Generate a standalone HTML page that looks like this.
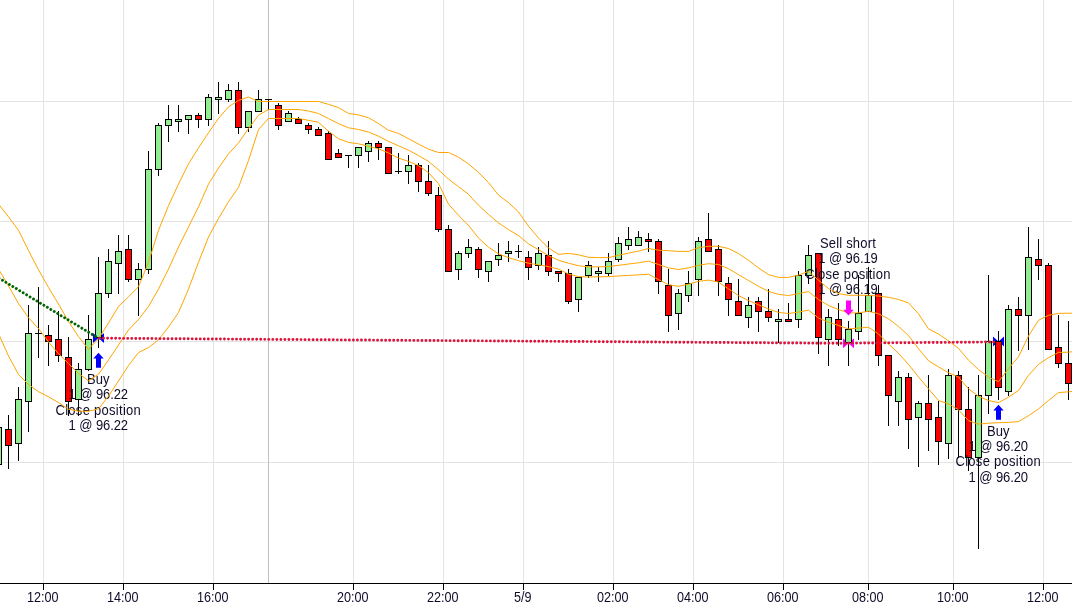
<!DOCTYPE html>
<html><head><meta charset="utf-8"><title>Chart</title>
<style>html,body{margin:0;padding:0;background:#fff;overflow:hidden}body{width:1072px;height:613px}</style>
</head><body>
<svg width="1072" height="613" viewBox="0 0 1072 613" style="display:block">
<rect width="1072" height="613" fill="#fff"/>
<g stroke="#e3e3e3" stroke-width="1" shape-rendering="crispEdges">
<line x1="0" y1="101.5" x2="1072" y2="101.5"/>
<line x1="0" y1="221.5" x2="1072" y2="221.5"/>
<line x1="0" y1="341.5" x2="1072" y2="341.5"/>
<line x1="0" y1="462.5" x2="1072" y2="462.5"/>
<line x1="43.5" y1="0" x2="43.5" y2="583"/>
<line x1="123.5" y1="0" x2="123.5" y2="583"/>
<line x1="213.5" y1="0" x2="213.5" y2="583"/>
<line x1="353.5" y1="0" x2="353.5" y2="583"/>
<line x1="443.5" y1="0" x2="443.5" y2="583"/>
<line x1="523.5" y1="0" x2="523.5" y2="583"/>
<line x1="613.5" y1="0" x2="613.5" y2="583"/>
<line x1="693.5" y1="0" x2="693.5" y2="583"/>
<line x1="783.5" y1="0" x2="783.5" y2="583"/>
<line x1="868.5" y1="0" x2="868.5" y2="583"/>
<line x1="953.5" y1="0" x2="953.5" y2="583"/>
<line x1="1043.5" y1="0" x2="1043.5" y2="583"/>
</g>
<line x1="268.5" y1="0" x2="268.5" y2="583" stroke="#c0c0c0" stroke-width="1" shape-rendering="crispEdges"/>
<g stroke="#000" stroke-width="1" shape-rendering="crispEdges">
<rect x="-2.0" y="427" width="1" height="37" fill="#000" stroke="none"/>
<rect x="-4.5" y="427.5" width="6" height="36.5" fill="#90ee90"/>
<rect x="8.0" y="415" width="1" height="54" fill="#000" stroke="none"/>
<rect x="5.5" y="429.5" width="6" height="16.0" fill="#ff0000"/>
<rect x="18.0" y="387" width="1" height="74" fill="#000" stroke="none"/>
<rect x="15.5" y="399.5" width="6" height="44.0" fill="#90ee90"/>
<rect x="28.0" y="305" width="1" height="127" fill="#000" stroke="none"/>
<rect x="25.5" y="333.5" width="6" height="68.0" fill="#90ee90"/>
<rect x="38.0" y="287" width="1" height="71" fill="#000" stroke="none"/>
<line x1="35.0" y1="333.5" x2="42.0" y2="333.5"/>
<rect x="48.0" y="325" width="1" height="41" fill="#000" stroke="none"/>
<rect x="45.5" y="335.5" width="6" height="6.0" fill="#ff0000"/>
<rect x="58.0" y="311" width="1" height="51" fill="#000" stroke="none"/>
<rect x="55.5" y="339.5" width="6" height="16.0" fill="#ff0000"/>
<rect x="68.0" y="337" width="1" height="79" fill="#000" stroke="none"/>
<rect x="65.5" y="357.5" width="6" height="44.0" fill="#ff0000"/>
</g>
<path d="M93.0,333 L98.5,338 L93.0,343 Z M104.0,333 L98.5,338 L104.0,343 Z" fill="#0000ff"/>
<g font-family="'Liberation Sans', Arial, sans-serif" font-size="14" fill="#100c28" text-anchor="middle">
<text transform="translate(98.3,383.7) scale(0.93,1)">Buy</text>
<text transform="translate(98.3,398.8) scale(0.93,1)" letter-spacing="-0.1">1 @ 96.22</text>
<text transform="translate(98.3,414.5) scale(0.93,1)" letter-spacing="0.3">Close position</text>
<text transform="translate(98.3,429.7) scale(0.93,1)" letter-spacing="-0.1">1 @ 96.22</text>
</g>
<g stroke="#000" stroke-width="1" shape-rendering="crispEdges">
<rect x="78.0" y="363" width="1" height="53" fill="#000" stroke="none"/>
<rect x="75.5" y="369.5" width="6" height="30.0" fill="#90ee90"/>
<rect x="88.0" y="315" width="1" height="56" fill="#000" stroke="none"/>
<rect x="85.5" y="339.5" width="6" height="30.0" fill="#90ee90"/>
<rect x="98.0" y="257" width="1" height="91" fill="#000" stroke="none"/>
<rect x="95.5" y="293.5" width="6" height="44.0" fill="#90ee90"/>
<rect x="108.0" y="249" width="1" height="49" fill="#000" stroke="none"/>
<rect x="105.5" y="261.5" width="6" height="32.0" fill="#90ee90"/>
<rect x="118.0" y="235" width="1" height="59" fill="#000" stroke="none"/>
<rect x="115.5" y="251.5" width="6" height="12.0" fill="#90ee90"/>
<rect x="128.0" y="235" width="1" height="47" fill="#000" stroke="none"/>
<rect x="125.5" y="249.5" width="6" height="30.0" fill="#ff0000"/>
<rect x="138.0" y="263" width="1" height="53" fill="#000" stroke="none"/>
<rect x="135.5" y="269.5" width="6" height="10.0" fill="#90ee90"/>
<rect x="148.0" y="151" width="1" height="123" fill="#000" stroke="none"/>
<rect x="145.5" y="169.5" width="6" height="100.0" fill="#90ee90"/>
<rect x="158.0" y="123" width="1" height="53" fill="#000" stroke="none"/>
<rect x="155.5" y="125.5" width="6" height="44.0" fill="#90ee90"/>
<rect x="168.0" y="105" width="1" height="37" fill="#000" stroke="none"/>
<rect x="165.5" y="119.5" width="6" height="6.0" fill="#90ee90"/>
<rect x="178.0" y="105" width="1" height="27" fill="#000" stroke="none"/>
<rect x="175.5" y="119.5" width="6" height="2.0" fill="#90ee90"/>
<rect x="188.0" y="115" width="1" height="19" fill="#000" stroke="none"/>
<rect x="185.5" y="115.5" width="6" height="4.0" fill="#90ee90"/>
<rect x="198.0" y="113" width="1" height="15" fill="#000" stroke="none"/>
<rect x="195.5" y="115.5" width="6" height="4.0" fill="#ff0000"/>
<rect x="208.0" y="94" width="1" height="32" fill="#000" stroke="none"/>
<rect x="205.5" y="97.5" width="6" height="22.0" fill="#90ee90"/>
<rect x="218.0" y="82" width="1" height="32" fill="#000" stroke="none"/>
<rect x="215.5" y="97.5" width="6" height="2.0" fill="#90ee90"/>
<rect x="228.0" y="84" width="1" height="18" fill="#000" stroke="none"/>
<rect x="225.5" y="90.5" width="6" height="9.0" fill="#90ee90"/>
<rect x="238.0" y="82" width="1" height="52" fill="#000" stroke="none"/>
<rect x="235.5" y="90.5" width="6" height="37.0" fill="#ff0000"/>
<rect x="248.0" y="111" width="1" height="21" fill="#000" stroke="none"/>
<rect x="245.5" y="111.5" width="6" height="16.0" fill="#90ee90"/>
<rect x="258.0" y="90" width="1" height="22" fill="#000" stroke="none"/>
<rect x="255.5" y="99.5" width="6" height="12.0" fill="#90ee90"/>
<rect x="268.0" y="99" width="1" height="11" fill="#000" stroke="none"/>
<line x1="265.0" y1="99.5" x2="272.0" y2="99.5"/>
<rect x="278.0" y="103" width="1" height="27" fill="#000" stroke="none"/>
<rect x="275.5" y="105.5" width="6" height="20.0" fill="#ff0000"/>
<rect x="288.0" y="111" width="1" height="11" fill="#000" stroke="none"/>
<rect x="285.5" y="113.5" width="6" height="8.0" fill="#90ee90"/>
<rect x="298.0" y="117" width="1" height="7" fill="#000" stroke="none"/>
<rect x="295.5" y="119.5" width="6" height="4.0" fill="#ff0000"/>
<rect x="308.0" y="123" width="1" height="11" fill="#000" stroke="none"/>
<rect x="305.5" y="125.5" width="6" height="4.0" fill="#ff0000"/>
<rect x="318.0" y="127" width="1" height="9" fill="#000" stroke="none"/>
<rect x="315.5" y="129.5" width="6" height="6.0" fill="#ff0000"/>
<rect x="328.0" y="131" width="1" height="29" fill="#000" stroke="none"/>
<rect x="325.5" y="133.5" width="6" height="26.0" fill="#ff0000"/>
<rect x="338.0" y="149" width="1" height="9" fill="#000" stroke="none"/>
<rect x="335.5" y="153.5" width="6" height="4.0" fill="#ff0000"/>
<rect x="348.0" y="155" width="1" height="13" fill="#000" stroke="none"/>
<line x1="345.0" y1="155.5" x2="352.0" y2="155.5"/>
<rect x="358.0" y="147" width="1" height="21" fill="#000" stroke="none"/>
<rect x="355.5" y="147.5" width="6" height="8.0" fill="#90ee90"/>
<rect x="368.0" y="141" width="1" height="21" fill="#000" stroke="none"/>
<rect x="365.5" y="143.5" width="6" height="8.0" fill="#90ee90"/>
<rect x="378.0" y="141" width="1" height="19" fill="#000" stroke="none"/>
<rect x="375.5" y="143.5" width="6" height="4.0" fill="#ff0000"/>
<rect x="388.0" y="147" width="1" height="27" fill="#000" stroke="none"/>
<rect x="385.5" y="147.5" width="6" height="26.0" fill="#ff0000"/>
<rect x="398.0" y="153" width="1" height="21" fill="#000" stroke="none"/>
<line x1="395.0" y1="171.5" x2="402.0" y2="171.5"/>
<rect x="408.0" y="155" width="1" height="29" fill="#000" stroke="none"/>
<rect x="405.5" y="165.5" width="6" height="6.0" fill="#90ee90"/>
<rect x="418.0" y="163" width="1" height="29" fill="#000" stroke="none"/>
<rect x="415.5" y="165.5" width="6" height="16.0" fill="#ff0000"/>
<rect x="428.0" y="165" width="1" height="31" fill="#000" stroke="none"/>
<rect x="425.5" y="181.5" width="6" height="12.0" fill="#ff0000"/>
<rect x="438.0" y="187" width="1" height="45" fill="#000" stroke="none"/>
<rect x="435.5" y="195.5" width="6" height="34.0" fill="#ff0000"/>
<rect x="448.0" y="225" width="1" height="47" fill="#000" stroke="none"/>
<rect x="445.5" y="229.5" width="6" height="42.0" fill="#ff0000"/>
<rect x="458.0" y="251" width="1" height="29" fill="#000" stroke="none"/>
<rect x="455.5" y="253.5" width="6" height="16.0" fill="#90ee90"/>
<rect x="468.0" y="239" width="1" height="19" fill="#000" stroke="none"/>
<rect x="465.5" y="247.5" width="6" height="6.0" fill="#90ee90"/>
<rect x="478.0" y="247" width="1" height="31" fill="#000" stroke="none"/>
<rect x="475.5" y="249.5" width="6" height="20.0" fill="#ff0000"/>
<rect x="488.0" y="261" width="1" height="21" fill="#000" stroke="none"/>
<rect x="485.5" y="261.5" width="6" height="10.0" fill="#90ee90"/>
<rect x="498.0" y="243" width="1" height="23" fill="#000" stroke="none"/>
<rect x="495.5" y="255.5" width="6" height="4.0" fill="#90ee90"/>
<rect x="508.0" y="241" width="1" height="21" fill="#000" stroke="none"/>
<rect x="505.5" y="251.5" width="6" height="2.0" fill="#90ee90"/>
<rect x="518.0" y="245" width="1" height="13" fill="#000" stroke="none"/>
<line x1="515.0" y1="251.5" x2="522.0" y2="251.5"/>
<rect x="528.0" y="251" width="1" height="29" fill="#000" stroke="none"/>
<rect x="525.5" y="257.5" width="6" height="10.0" fill="#ff0000"/>
<rect x="538.0" y="247" width="1" height="23" fill="#000" stroke="none"/>
<rect x="535.5" y="253.5" width="6" height="12.0" fill="#90ee90"/>
<rect x="548.0" y="241" width="1" height="35" fill="#000" stroke="none"/>
<rect x="545.5" y="255.5" width="6" height="16.0" fill="#ff0000"/>
<rect x="558.0" y="271" width="1" height="11" fill="#000" stroke="none"/>
<rect x="555.5" y="271.5" width="6" height="2.0" fill="#ff0000"/>
<rect x="568.0" y="269" width="1" height="35" fill="#000" stroke="none"/>
<rect x="565.5" y="273.5" width="6" height="28.0" fill="#ff0000"/>
<rect x="578.0" y="277" width="1" height="35" fill="#000" stroke="none"/>
<rect x="575.5" y="277.5" width="6" height="22.0" fill="#90ee90"/>
<rect x="588.0" y="261" width="1" height="17" fill="#000" stroke="none"/>
<rect x="585.5" y="265.5" width="6" height="10.0" fill="#90ee90"/>
<rect x="598.0" y="267" width="1" height="15" fill="#000" stroke="none"/>
<rect x="595.5" y="271.5" width="6" height="2.0" fill="#90ee90"/>
<rect x="608.0" y="253" width="1" height="23" fill="#000" stroke="none"/>
<rect x="605.5" y="261.5" width="6" height="12.0" fill="#90ee90"/>
<rect x="618.0" y="237" width="1" height="25" fill="#000" stroke="none"/>
<rect x="615.5" y="243.5" width="6" height="16.0" fill="#90ee90"/>
<rect x="628.0" y="227" width="1" height="23" fill="#000" stroke="none"/>
<rect x="625.5" y="239.5" width="6" height="6.0" fill="#90ee90"/>
<rect x="638.0" y="231" width="1" height="15" fill="#000" stroke="none"/>
<rect x="635.5" y="237.5" width="6" height="8.0" fill="#90ee90"/>
<rect x="648.0" y="233" width="1" height="19" fill="#000" stroke="none"/>
<rect x="645.5" y="239.5" width="6" height="2.0" fill="#ff0000"/>
<rect x="658.0" y="239" width="1" height="55" fill="#000" stroke="none"/>
<rect x="655.5" y="241.5" width="6" height="40.0" fill="#ff0000"/>
<rect x="668.0" y="269" width="1" height="63" fill="#000" stroke="none"/>
<rect x="665.5" y="285.5" width="6" height="30.0" fill="#ff0000"/>
<rect x="678.0" y="289" width="1" height="41" fill="#000" stroke="none"/>
<rect x="675.5" y="293.5" width="6" height="20.0" fill="#90ee90"/>
<rect x="688.0" y="271" width="1" height="31" fill="#000" stroke="none"/>
<rect x="685.5" y="283.5" width="6" height="12.0" fill="#90ee90"/>
<rect x="698.0" y="237" width="1" height="59" fill="#000" stroke="none"/>
<rect x="695.5" y="241.5" width="6" height="38.0" fill="#90ee90"/>
<rect x="708.0" y="213" width="1" height="39" fill="#000" stroke="none"/>
<rect x="705.5" y="239.5" width="6" height="12.0" fill="#ff0000"/>
<rect x="718.0" y="245" width="1" height="51" fill="#000" stroke="none"/>
<rect x="715.5" y="249.5" width="6" height="32.0" fill="#ff0000"/>
<rect x="728.0" y="277" width="1" height="39" fill="#000" stroke="none"/>
<rect x="725.5" y="283.5" width="6" height="16.0" fill="#ff0000"/>
<rect x="738.0" y="279" width="1" height="37" fill="#000" stroke="none"/>
<rect x="735.5" y="301.5" width="6" height="14.0" fill="#ff0000"/>
<rect x="748.0" y="297" width="1" height="31" fill="#000" stroke="none"/>
<rect x="745.5" y="305.5" width="6" height="12.0" fill="#90ee90"/>
<rect x="758.0" y="297" width="1" height="35" fill="#000" stroke="none"/>
<rect x="755.5" y="301.5" width="6" height="10.0" fill="#ff0000"/>
<rect x="768.0" y="289" width="1" height="33" fill="#000" stroke="none"/>
<rect x="765.5" y="311.5" width="6" height="6.0" fill="#ff0000"/>
<rect x="778.0" y="309" width="1" height="34" fill="#000" stroke="none"/>
<rect x="775.5" y="319.5" width="6" height="2.0" fill="#90ee90"/>
<rect x="788.0" y="303" width="1" height="19" fill="#000" stroke="none"/>
<rect x="785.5" y="319.5" width="6" height="2.0" fill="#ff0000"/>
<rect x="798.0" y="271" width="1" height="57" fill="#000" stroke="none"/>
<rect x="795.5" y="275.5" width="6" height="44.0" fill="#90ee90"/>
<rect x="808.0" y="245" width="1" height="39" fill="#000" stroke="none"/>
<rect x="805.5" y="255.5" width="6" height="20.0" fill="#90ee90"/>
<rect x="818.0" y="253" width="1" height="101" fill="#000" stroke="none"/>
<rect x="815.5" y="253.5" width="6" height="84.0" fill="#ff0000"/>
</g>
<path d="M843.0,338.3 L848.5,343.3 L843.0,348.3 Z M854.0,338.3 L848.5,343.3 L854.0,348.3 Z" fill="#ff00ff"/>
<g font-family="'Liberation Sans', Arial, sans-serif" font-size="14" fill="#100c28" text-anchor="middle">
<text transform="translate(848,247.9) scale(0.93,1)" letter-spacing="0.2">Sell short</text>
<text transform="translate(848,263.0) scale(0.93,1)" letter-spacing="-0.1">1 @ 96.19</text>
<text transform="translate(848,278.7) scale(0.93,1)" letter-spacing="0.3">Close position</text>
<text transform="translate(848,293.9) scale(0.93,1)" letter-spacing="-0.1">1 @ 96.19</text>
</g>
<g stroke="#000" stroke-width="1" shape-rendering="crispEdges">
<rect x="828.0" y="309" width="1" height="57" fill="#000" stroke="none"/>
<rect x="825.5" y="317.5" width="6" height="22.0" fill="#90ee90"/>
<rect x="838.0" y="303" width="1" height="43" fill="#000" stroke="none"/>
<rect x="835.5" y="319.5" width="6" height="20.0" fill="#ff0000"/>
<rect x="848.0" y="321" width="1" height="45" fill="#000" stroke="none"/>
<rect x="845.5" y="329.5" width="6" height="13.0" fill="#90ee90"/>
<rect x="858.0" y="275" width="1" height="65" fill="#000" stroke="none"/>
<rect x="855.5" y="313.5" width="6" height="18.0" fill="#90ee90"/>
<rect x="868.0" y="267" width="1" height="45" fill="#000" stroke="none"/>
<rect x="865.5" y="295.5" width="6" height="16.0" fill="#90ee90"/>
<rect x="878.0" y="285" width="1" height="81" fill="#000" stroke="none"/>
<rect x="875.5" y="293.5" width="6" height="62.0" fill="#ff0000"/>
<rect x="888.0" y="355" width="1" height="71" fill="#000" stroke="none"/>
<rect x="885.5" y="355.5" width="6" height="40.0" fill="#ff0000"/>
<rect x="898.0" y="371" width="1" height="55" fill="#000" stroke="none"/>
<rect x="895.5" y="377.5" width="6" height="24.0" fill="#90ee90"/>
<rect x="908.0" y="373" width="1" height="76" fill="#000" stroke="none"/>
<rect x="905.5" y="377.5" width="6" height="42.0" fill="#ff0000"/>
<rect x="918.0" y="401" width="1" height="66" fill="#000" stroke="none"/>
<rect x="915.5" y="403.5" width="6" height="14.0" fill="#90ee90"/>
<rect x="928.0" y="375" width="1" height="76" fill="#000" stroke="none"/>
<rect x="925.5" y="403.5" width="6" height="16.0" fill="#ff0000"/>
<rect x="938.0" y="401" width="1" height="64" fill="#000" stroke="none"/>
<rect x="935.5" y="417.5" width="6" height="24.0" fill="#ff0000"/>
<rect x="948.0" y="369" width="1" height="90" fill="#000" stroke="none"/>
<rect x="945.5" y="375.5" width="6" height="68.0" fill="#90ee90"/>
<rect x="958.0" y="371" width="1" height="87" fill="#000" stroke="none"/>
<rect x="955.5" y="375.5" width="6" height="34.0" fill="#ff0000"/>
<rect x="968.0" y="387" width="1" height="84" fill="#000" stroke="none"/>
<rect x="965.5" y="409.5" width="6" height="48.0" fill="#ff0000"/>
</g>
<path d="M993.0,336.5 L998.5,341.5 L993.0,346.5 Z M1004.0,336.5 L998.5,341.5 L1004.0,346.5 Z" fill="#0000ff"/>
<g font-family="'Liberation Sans', Arial, sans-serif" font-size="14" fill="#100c28" text-anchor="middle">
<text transform="translate(998.3,435.6) scale(0.93,1)">Buy</text>
<text transform="translate(998.3,450.7) scale(0.93,1)" letter-spacing="-0.1">1 @ 96.20</text>
<text transform="translate(998.3,466.4) scale(0.93,1)" letter-spacing="0.3">Close position</text>
<text transform="translate(998.3,481.6) scale(0.93,1)" letter-spacing="-0.1">1 @ 96.20</text>
</g>
<g stroke="#000" stroke-width="1" shape-rendering="crispEdges">
<rect x="978.0" y="375" width="1" height="174" fill="#000" stroke="none"/>
<rect x="975.5" y="395.5" width="6" height="62.0" fill="#90ee90"/>
<rect x="988.0" y="275" width="1" height="139" fill="#000" stroke="none"/>
<rect x="985.5" y="341.5" width="6" height="54.0" fill="#90ee90"/>
<rect x="998.0" y="331" width="1" height="69" fill="#000" stroke="none"/>
<rect x="995.5" y="341.5" width="6" height="46.0" fill="#ff0000"/>
<rect x="1008.0" y="305" width="1" height="91" fill="#000" stroke="none"/>
<rect x="1005.5" y="309.5" width="6" height="82.0" fill="#90ee90"/>
<rect x="1018.0" y="297" width="1" height="54" fill="#000" stroke="none"/>
<rect x="1015.5" y="309.5" width="6" height="6.0" fill="#ff0000"/>
<rect x="1028.0" y="227" width="1" height="123" fill="#000" stroke="none"/>
<rect x="1025.5" y="257.5" width="6" height="58.0" fill="#90ee90"/>
<rect x="1038.0" y="239" width="1" height="41" fill="#000" stroke="none"/>
<rect x="1035.5" y="259.5" width="6" height="6.0" fill="#ff0000"/>
<rect x="1048.0" y="263" width="1" height="87" fill="#000" stroke="none"/>
<rect x="1045.5" y="265.5" width="6" height="84.0" fill="#ff0000"/>
<rect x="1058.0" y="315" width="1" height="53" fill="#000" stroke="none"/>
<rect x="1055.5" y="347.5" width="6" height="16.0" fill="#ff0000"/>
<rect x="1068.0" y="321" width="1" height="79" fill="#000" stroke="none"/>
<rect x="1065.5" y="363.5" width="6" height="20.0" fill="#ff0000"/>
</g>
<polyline points="-1.5,204 8.5,216.8 18.5,230.3 28.5,250.5 38.5,269.8 48.5,287.4 58.5,304 68.5,321.5 78.5,336.5 88.5,349.3 98.5,338.7 108.5,323 118.5,306.5 128.5,296.8 138.5,286.7 148.5,262.2 158.5,230.3 168.5,205.6 178.5,184 188.5,163.9 198.5,147.8 208.5,132.8 218.5,118.4 228.5,106.8 238.5,100.4 248.5,97 258.5,101.5 268.5,101.5 318.5,101.5 328.5,104.3 338.5,107.6 348.5,113.5 358.5,114.9 368.5,117.7 378.5,123.6 388.5,130.3 398.5,133.4 408.5,138.7 418.5,144.1 428.5,149.2 438.5,152.5 448.5,152.5 458.5,157.2 468.5,163.9 478.5,172.4 488.5,182.5 498.5,195.1 508.5,202.7 518.5,211.9 528.5,226.2 538.5,238 548.5,248.1 558.5,254.3 568.5,253.4 578.5,254.8 588.5,257.3 598.5,257.6 608.5,257.6 618.5,255.3 628.5,253.1 638.5,251.1 648.5,248.5 658.5,250.2 668.5,250.7 678.5,251.4 688.5,251.4 698.5,247.7 708.5,246.3 718.5,246.3 728.5,248.5 738.5,253.6 748.5,260.3 758.5,267.9 768.5,274.6 778.5,277.4 788.5,277.4 798.5,275.1 808.5,271.4 818.5,280.2 828.5,288.6 838.5,293.6 848.5,295.3 858.5,295.3 868.5,295.3 878.5,296.1 888.5,297.3 898.5,299.5 908.5,302.9 918.5,313.8 928.5,328.9 938.5,334 948.5,340.8 958.5,348.3 968.5,360.2 978.5,369.5 988.5,377 998.5,381.7 1008.5,368.6 1018.5,356.8 1028.5,336 1038.5,320.3 1048.5,315.3 1058.5,313.4 1068.5,313.2 1078.5,313.2" fill="none" stroke="#ffa500" stroke-width="1" stroke-linejoin="round"/>
<polyline points="-1.5,269 8.5,286 18.5,303.5 28.5,317.7 38.5,328.5 48.5,342 58.5,353.7 68.5,363.6 78.5,373.5 88.5,380.8 98.5,374.2 108.5,360 118.5,345 128.5,330 138.5,319.5 148.5,306.5 158.5,289 168.5,269 178.5,247.1 188.5,226.9 198.5,206.8 208.5,184.1 218.5,168.1 228.5,153.8 238.5,142.9 248.5,128.6 258.5,115.2 268.5,109.5 298.5,109.5 308.5,111 318.5,113.5 328.5,118.6 338.5,123.6 348.5,127.8 358.5,129.5 368.5,132 378.5,136.2 388.5,141.3 398.5,145.8 408.5,150.2 418.5,155.5 428.5,161.4 438.5,169.8 448.5,179.1 458.5,186.7 468.5,194.3 478.5,205.2 488.5,214.5 498.5,222.9 508.5,229.6 518.5,235.5 528.5,243.9 538.5,249.7 548.5,255.6 558.5,260.3 568.5,263.2 578.5,265.7 588.5,266.9 598.5,266.9 608.5,266.6 618.5,265.3 628.5,264 638.5,262.8 648.5,261.1 658.5,264.5 668.5,267.9 678.5,269.5 688.5,267.9 698.5,265.3 708.5,263.7 718.5,264.5 728.5,268.7 738.5,274.6 748.5,280.5 758.5,286.3 768.5,291.4 778.5,294.4 788.5,295.5 798.5,293.6 808.5,291.6 818.5,299.5 828.5,305.4 838.5,309.6 848.5,312.9 858.5,312.9 868.5,311.3 878.5,313.8 888.5,318.8 898.5,326.4 908.5,335.6 918.5,348.7 928.5,360.8 938.5,366.9 948.5,372.8 958.5,377 968.5,388.8 978.5,396.3 988.5,400.5 998.5,402.6 1008.5,397.2 1018.5,390.5 1028.5,375.3 1038.5,364.4 1048.5,357.7 1058.5,352.4 1068.5,352.2 1078.5,351" fill="none" stroke="#ffa500" stroke-width="1" stroke-linejoin="round"/>
<polyline points="-1.5,333 0,337 8.5,356 18.5,374.5 28.5,384.5 38.5,391.7 48.5,396.8 58.5,402.6 68.5,409.2 78.5,411.2 88.5,411.2 98.5,408.9 108.5,396.2 118.5,381 128.5,365.5 138.5,352.5 148.5,347.6 158.5,339.8 168.5,327 178.5,312.5 188.5,289.1 198.5,262.2 208.5,237 218.5,218.5 228.5,201.7 238.5,187.4 248.5,160.5 258.5,129.5 268.5,118.5 298.5,118.5 308.5,120.3 318.5,122.3 328.5,131.2 338.5,138.7 348.5,142.4 358.5,143.8 368.5,146.3 378.5,148.8 388.5,153 398.5,158.1 408.5,161.4 418.5,165.6 428.5,172.7 438.5,183.5 448.5,204.2 458.5,215.3 468.5,225.4 478.5,238 488.5,247.2 498.5,253.9 508.5,257.6 518.5,260.7 528.5,263.2 538.5,264.9 548.5,266.6 558.5,269.1 568.5,274.1 578.5,276.6 588.5,277 598.5,276.8 608.5,276.6 618.5,276 628.5,275.4 638.5,274.9 648.5,274.2 658.5,279.6 668.5,284.7 678.5,286.3 688.5,284.2 698.5,281.3 708.5,280.1 718.5,282.1 728.5,288.9 738.5,295.6 748.5,300.6 758.5,304.8 768.5,309 778.5,312.4 788.5,313.5 798.5,312.1 808.5,310.1 818.5,318 828.5,322.2 838.5,325.5 848.5,328.9 858.5,328.1 868.5,327.2 878.5,334 888.5,344 898.5,353.3 908.5,364.4 918.5,377 928.5,388.8 938.5,400.5 948.5,403.9 958.5,409.8 968.5,420.7 978.5,424.1 988.5,423.2 998.5,422.7 1008.5,422.4 1018.5,421.6 1028.5,415.7 1038.5,408.9 1048.5,400.5 1058.5,392.6 1068.5,391.8 1078.5,391" fill="none" stroke="#ffa500" stroke-width="1" stroke-linejoin="round"/>
<line x1="-1" y1="278.2" x2="98.5" y2="338.2" stroke="#006400" stroke-width="2.9" stroke-linecap="round" stroke-dasharray="0.01 4.02"/>
<line x1="99.5" y1="338.2" x2="848.5" y2="343.4" stroke="#dc143c" stroke-width="2.9" stroke-linecap="round" stroke-dasharray="0.01 4.02"/>
<line x1="848.5" y1="343.2" x2="994" y2="342" stroke="#dc143c" stroke-width="2.9" stroke-linecap="round" stroke-dasharray="0.01 4.02"/>
<path d="M98.5,352.7 L103.7,358.4 L101.0,358.4 L101.0,367.7 L96.0,367.7 L96.0,358.4 L93.3,358.4 Z" fill="#0000ff"/>
<path d="M848.5,315.5 L853.7,309.8 L851.0,309.8 L851.0,300.5 L846.0,300.5 L846.0,309.8 L843.3,309.8 Z" fill="#ff00ff"/>
<path d="M998.5,404.7 L1003.7,410.4 L1001.0,410.4 L1001.0,419.7 L996.0,419.7 L996.0,410.4 L993.3,410.4 Z" fill="#0000ff"/>
<g stroke="#000" stroke-width="1" shape-rendering="crispEdges">
<line x1="0" y1="583.5" x2="1072" y2="583.5"/>
<line x1="43.5" y1="583" x2="43.5" y2="590"/>
<line x1="123.5" y1="583" x2="123.5" y2="590"/>
<line x1="213.5" y1="583" x2="213.5" y2="590"/>
<line x1="353.5" y1="583" x2="353.5" y2="590"/>
<line x1="443.5" y1="583" x2="443.5" y2="590"/>
<line x1="523.5" y1="583" x2="523.5" y2="590"/>
<line x1="613.5" y1="583" x2="613.5" y2="590"/>
<line x1="693.5" y1="583" x2="693.5" y2="590"/>
<line x1="783.5" y1="583" x2="783.5" y2="590"/>
<line x1="868.5" y1="583" x2="868.5" y2="590"/>
<line x1="953.5" y1="583" x2="953.5" y2="590"/>
<line x1="1043.5" y1="583" x2="1043.5" y2="590"/>
</g>
<g font-family="'Liberation Sans', Arial, sans-serif" font-size="14" fill="#100c28" text-anchor="middle">
<text transform="translate(42.8,602.2) scale(0.9,1)">12:00</text>
<text transform="translate(122.8,602.2) scale(0.9,1)">14:00</text>
<text transform="translate(212.8,602.2) scale(0.9,1)">16:00</text>
<text transform="translate(352.8,602.2) scale(0.9,1)">20:00</text>
<text transform="translate(442.8,602.2) scale(0.9,1)">22:00</text>
<text transform="translate(522.8,602.2) scale(0.9,1)">5/9</text>
<text transform="translate(612.8,602.2) scale(0.9,1)">02:00</text>
<text transform="translate(692.8,602.2) scale(0.9,1)">04:00</text>
<text transform="translate(782.8,602.2) scale(0.9,1)">06:00</text>
<text transform="translate(867.8,602.2) scale(0.9,1)">08:00</text>
<text transform="translate(952.8,602.2) scale(0.9,1)">10:00</text>
<text transform="translate(1042.8,602.2) scale(0.9,1)">12:00</text>
</g>
</svg>
</body></html>
